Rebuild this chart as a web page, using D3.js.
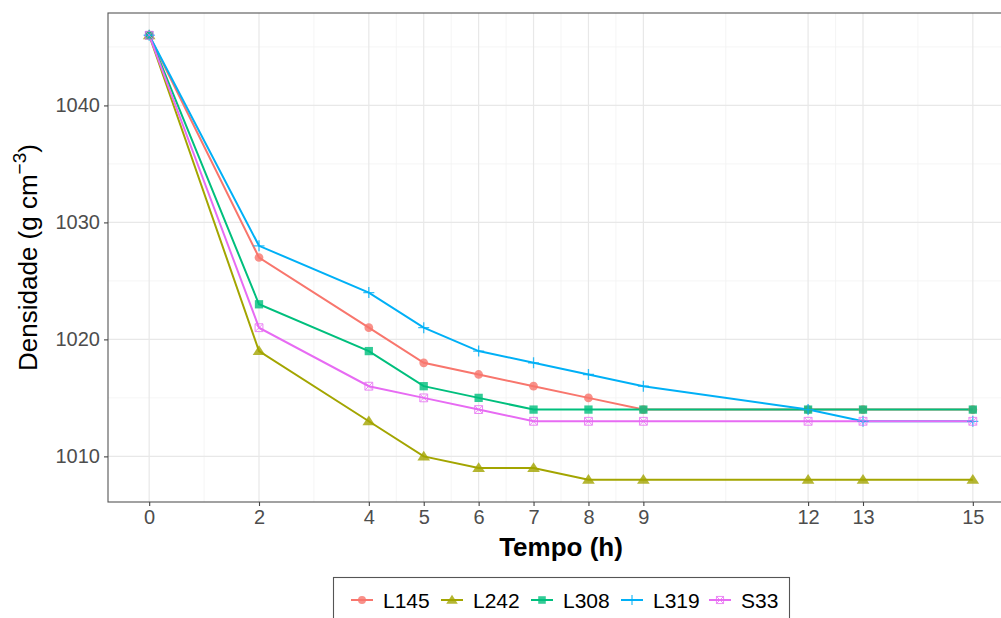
<!DOCTYPE html>
<html><head><meta charset="utf-8">
<script src="https://cdnjs.cloudflare.com/ajax/libs/d3/7.8.5/d3.min.js"></script>
<style>
html,body{margin:0;padding:0;background:#fff;}
svg{display:block;font-family:"Liberation Sans",Arial,sans-serif;}
</style></head>
<body>
<svg id="chart" width="1001" height="618"></svg>
<script>
const times = [0, 2, 4, 5, 6, 7, 8, 9, 12, 13, 15];
const seriesNames = ["L145", "L242", "L308", "L319", "S33"];
const L145 = [1046, 1027, 1021, 1018, 1017, 1016, 1015, 1014, 1014, 1014, 1014];
const L242 = [1046, 1019, 1013, 1010, 1009, 1009, 1008, 1008, 1008, 1008, 1008];
const L308 = [1046, 1023, 1019, 1016, 1015, 1014, 1014, 1014, 1014, 1014, 1014];
const L319 = [1046, 1028, 1024, 1021, 1019, 1018, 1017, 1016, 1014, 1013, 1013];
const S33  = [1046, 1021, 1016, 1015, 1014, 1013, 1013, 1013, 1013, 1013, 1013];
const xTicks = [0, 2, 4, 5, 6, 7, 8, 9, 12, 13, 15];
const yTicks = [1010, 1020, 1030, 1040];
const colors = ["#F8766D", "#A3A500", "#00BF7D", "#00B0F6", "#E76BF3"];
const shapes = ["circle", "triangle", "square", "plus", "squarecross"];

const values = [L145, L242, L308, L319, S33];
const series = seriesNames.map((name, i) => ({
  name, color: colors[i], shape: shapes[i],
  points: times.map((t, j) => ({t, v: values[i][j]}))
}));

const svg = d3.select("#chart");
const P = {left: 108, right: 1014, top: 13, bottom: 502};

// ggplot-style 5% expansion
const xr = d3.extent(times), yr = [d3.min(values.flat()), d3.max(values.flat())];
const xe = (xr[1]-xr[0])*0.05, ye = (yr[1]-yr[0])*0.05;
const x = d3.scaleLinear().domain([xr[0]-xe, xr[1]+xe]).range([P.left, P.right]);
const y = d3.scaleLinear().domain([yr[0]-ye, yr[1]+ye]).range([P.bottom, P.top]);

// minor breaks: midpoints between majors
function minors(ticks, dom) {
  const m = [];
  for (let i = 0; i < ticks.length-1; i++) m.push((ticks[i]+ticks[i+1])/2);
  const d0 = ticks[1]-ticks[0], d1 = ticks[ticks.length-1]-ticks[ticks.length-2];
  m.unshift(ticks[0]-d0/2); m.push(ticks[ticks.length-1]+d1/2);
  return m.filter(v => v >= dom[0] && v <= dom[1]);
}
const g = svg.append("g");
g.append("rect").attr("x", P.left).attr("y", P.top).attr("width", P.right-P.left)
  .attr("height", P.bottom-P.top).attr("fill", "#fff");

minors(yTicks, y.domain()).forEach(v => g.append("line")
  .attr("x1", P.left).attr("x2", P.right).attr("y1", y(v)).attr("y2", y(v))
  .attr("stroke", "#f2f2f2").attr("stroke-width", 0.8));
minors(xTicks, x.domain()).forEach(v => g.append("line")
  .attr("y1", P.top).attr("y2", P.bottom).attr("x1", x(v)).attr("x2", x(v))
  .attr("stroke", "#f2f2f2").attr("stroke-width", 0.8));
yTicks.forEach(v => g.append("line")
  .attr("x1", P.left).attr("x2", P.right).attr("y1", y(v)).attr("y2", y(v))
  .attr("stroke", "#e8e8e8").attr("stroke-width", 1.2));
xTicks.forEach(v => g.append("line")
  .attr("y1", P.top).attr("y2", P.bottom).attr("x1", x(v)).attr("x2", x(v))
  .attr("stroke", "#e8e8e8").attr("stroke-width", 1.2));

// lines
const line = d3.line().x(d => x(d.t)).y(d => y(d.v));
series.forEach(s => g.append("path").datum(s.points).attr("d", line)
  .attr("fill", "none").attr("stroke", s.color).attr("stroke-width", 2));

// point shapes
function drawShape(sel, shape, cx, cy, color, sz) {
  const r = sz;
  if (shape === "circle") {
    sel.append("circle").attr("cx", cx).attr("cy", cy).attr("r", r*0.95).attr("fill", color);
  } else if (shape === "triangle") {
    const h = r*1.25;
    sel.append("path").attr("d", `M${cx},${cy-h} L${cx+h*1.1},${cy+h*0.7} L${cx-h*1.1},${cy+h*0.7}Z`).attr("fill", color);
  } else if (shape === "square") {
    sel.append("rect").attr("x", cx-r*0.9).attr("y", cy-r*0.9).attr("width", r*1.8).attr("height", r*1.8).attr("fill", color);
  } else if (shape === "plus") {
    sel.append("path").attr("d", `M${cx-r*1.2},${cy}H${cx+r*1.2}M${cx},${cy-r*1.2}V${cy+r*1.2}`)
      .attr("stroke", color).attr("stroke-width", 1.3).attr("fill", "none");
  } else if (shape === "squarecross") {
    const a = r*0.85;
    sel.append("path").attr("d", `M${cx-a},${cy-a}H${cx+a}V${cy+a}H${cx-a}Z M${cx-a},${cy-a}L${cx+a},${cy+a} M${cx+a},${cy-a}L${cx-a},${cy+a}`)
      .attr("stroke", color).attr("stroke-width", 1).attr("fill", "none");
  }
}
series.forEach(s => {
  const pg = g.append("g").attr("opacity", 0.8);
  s.points.forEach(p => drawShape(pg, s.shape, x(p.t), y(p.v), s.color, 4.6));
});

// panel border
g.append("rect").attr("x", P.left).attr("y", P.top).attr("width", P.right-P.left)
  .attr("height", P.bottom-P.top).attr("fill", "none").attr("stroke", "#555").attr("stroke-width", 1.1);

// axes
const xAxis = svg.append("g").attr("transform", `translate(0,${P.bottom})`)
  .call(d3.axisBottom(x).tickValues(xTicks).tickFormat(d3.format("d")).tickSize(4).tickPadding(4));
const yAxis = svg.append("g").attr("transform", `translate(${P.left},0)`)
  .call(d3.axisLeft(y).tickValues(yTicks).tickFormat(d3.format("d")).tickSize(4).tickPadding(4));
[xAxis, yAxis].forEach(a => {
  a.select(".domain").remove();
  a.selectAll(".tick line").attr("stroke", "#444").attr("stroke-width", 1.1);
  a.selectAll(".tick text").attr("fill", "#4d4d4d").style("font-size", "20px")
    .style("font-family", "'Liberation Sans', Arial, sans-serif");
});

// axis titles
svg.append("text").attr("x", (P.left+P.right)/2).attr("y", 556).attr("text-anchor", "middle")
  .style("font-size", "26px").style("font-weight", "bold").attr("fill", "#000").text("Tempo (h)");
const yt = svg.append("text").attr("transform", `translate(37,${(P.top+P.bottom)/2}) rotate(-90)`)
  .attr("text-anchor", "middle").style("font-size", "26px").attr("fill", "#000");
yt.append("tspan").text("Densidade (g cm");
yt.append("tspan").attr("dy", -11).style("font-size", "19px").text("\u22123");
yt.append("tspan").attr("dy", 11).text(")");

// legend
const lg = svg.append("g");
lg.append("rect").attr("x", 333.5).attr("y", 577.5).attr("width", 456).attr("height", 60)
  .attr("fill", "#fff").attr("stroke", "#555").attr("stroke-width", 1.1);
const keyX = [362, 452, 542, 632, 720];
series.forEach((s, i) => {
  const cx = keyX[i], cy = 600;
  lg.append("line").attr("x1", cx-11).attr("x2", cx+11).attr("y1", cy).attr("y2", cy)
    .attr("stroke", s.color).attr("stroke-width", 2);
  const kg = lg.append("g").attr("opacity", 0.8);
  drawShape(kg, s.shape, cx, cy, s.color, 4.2);
  lg.append("text").attr("x", cx+21).attr("y", cy+7.5).style("font-size", "21px")
    .attr("fill", "#000").text(s.name);
});
</script>
</body></html>
